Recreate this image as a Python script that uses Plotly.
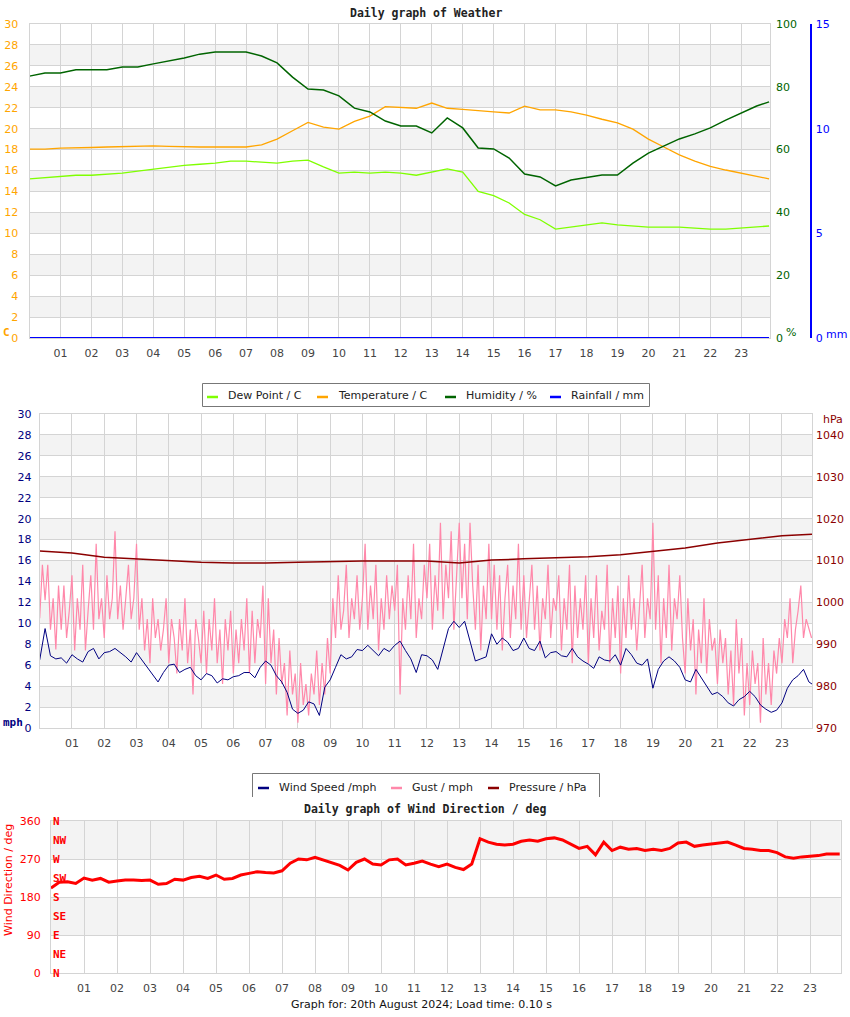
import plotly.graph_objects as go

W, H = 850, 1017


def px(x):
    return x / W


def py(y):
    return 1 - y / H


# ---------------- data ----------------
hour_ticks = list(range(1, 24))
hour_text = ["%02d" % h for h in hour_ticks]

# weather panel, half-hourly readings
half_hours = [i * 0.5 for i in range(48)] + [23.9]
temperature = [18.05, 18.05, 18.15, 18.15, 18.2, 18.25, 18.3, 18.35, 18.35, 18.3,
               18.25, 18.25, 18.25, 18.25, 18.25, 18.45, 19.0, 19.8, 20.6, 20.15,
               19.95, 20.7, 21.2, 22.1, 22.05, 21.95, 22.45, 21.95, 21.85, 21.7,
               21.6, 21.5, 22.15, 21.8, 21.8, 21.6, 21.3, 20.9, 20.55, 19.95,
               19.0, 18.25, 17.5, 16.9, 16.4, 16.05, 15.75, 15.5, 15.2]
dew_point = [15.2, 15.3, 15.45, 15.55, 15.55, 15.65, 15.75, 15.95, 16.15, 16.35,
             16.5, 16.6, 16.7, 16.9, 16.9, 16.8, 16.7, 16.9, 17.0, 16.35,
             15.75, 15.85, 15.75, 15.85, 15.75, 15.55, 15.85, 16.15, 15.85, 14.0,
             13.6, 12.9, 11.8, 11.3, 10.4, 10.6, 10.8, 11.0, 10.8, 10.7,
             10.6, 10.6, 10.6, 10.5, 10.4, 10.4, 10.5, 10.6, 10.7]
humidity = [83.4, 84.4, 84.4, 85.4, 85.4, 85.4, 86.3, 86.3, 87.3, 88.2,
            89.2, 90.4, 91.1, 91.1, 91.1, 89.8, 87.6, 83.1, 79.3, 79.0,
            77.1, 73.2, 72.0, 69.1, 67.5, 67.5, 65.3, 70.1, 66.9, 60.5,
            60.2, 57.3, 52.2, 51.3, 48.4, 50.3, 51.0, 51.9, 51.9, 55.7,
            58.9, 61.1, 63.4, 65.0, 66.9, 69.4, 71.7, 73.9, 75.2]
rain_hours = [0, 23.9]
rainfall = [0, 0]

# wind panel
speed_hours = [i / 6 for i in range(144)] + [23.93]
wind_speed = [
    6.5, 9.5, 6.9, 6.6, 6.7, 6.2,
    7.0, 6.6, 6.3, 7.3, 7.6, 6.6,
    7.2, 7.3, 7.6, 7.2, 6.8, 6.3,
    7.2, 6.5, 5.8, 5.0, 4.4, 5.3,
    6.0, 6.1, 5.3, 5.6, 5.8, 5.0,
    4.6, 5.2, 5.0, 4.3, 4.7, 4.6,
    4.9, 5.0, 5.3, 5.3, 4.8, 5.8,
    6.4, 6.0, 5.0, 4.4, 3.4, 1.8,
    1.4, 1.7, 2.5, 2.3, 1.2, 3.9,
    4.6, 5.8, 7.0, 6.6, 6.8, 7.5,
    7.4, 7.9, 7.4, 6.9, 7.6, 7.3,
    7.9, 8.3, 7.4, 6.6, 5.3, 7.0,
    6.9, 6.5, 5.6, 7.5, 9.5, 10.2,
    9.6, 10.2, 8.4, 6.4, 6.6, 6.8,
    9.0, 8.0, 8.6, 8.2, 7.4, 7.6,
    8.6, 7.6, 7.4, 8.3, 6.7, 7.2,
    7.3, 6.9, 6.8, 7.6, 6.8, 6.4,
    6.1, 5.7, 6.8, 6.5, 6.4, 7.0,
    6.0, 7.6, 7.0, 6.2, 6.0, 6.6,
    3.8, 5.6, 6.4, 6.8, 6.4, 5.8,
    4.6, 4.4, 5.6, 4.8, 4.0, 3.2,
    3.4, 3.0, 2.4, 2.1, 2.7, 3.0,
    3.5, 3.0, 2.2, 1.8, 1.5, 1.7,
    2.4, 3.8, 4.6, 5.0, 5.6, 4.4,
    4.2]

gust_hours = [i / 12 for i in range(288)]
gust = [
    10.5, 15.6, 12.2, 15.6, 9.4, 12.4, 7.5, 13.6, 9.4, 13.6, 8.6, 11.2,
    14.6, 7.4, 12.4, 9.4, 15.6, 7.4, 11.2, 14.6, 9.4, 17.6, 10.4, 12.4,
    8.6, 14.6, 10.4, 12.4, 18.8, 10.4, 13.6, 9.4, 12.4, 15.6, 10.4, 12.4,
    17.6, 9.4, 12.4, 7.4, 10.4, 6.2, 12.4, 8.6, 10.4, 7.4, 9.4, 12.4,
    6.2, 10.4, 8.6, 5.2, 10.4, 7.4, 12.4, 6.2, 9.4, 3.2, 10.4, 8.6,
    6.2, 11.2, 5.2, 10.4, 7.4, 12.4, 6.2, 9.4, 4.2, 10.4, 7.4, 11.2,
    5.2, 9.4, 6.2, 10.4, 7.4, 12.4, 5.2, 11.2, 6.2, 10.4, 8.6, 13.6,
    4.2, 12.4, 6.2, 9.4, 3.2, 8.6, 4.2, 6.2, 1.2, 7.4, 3.2, 5.2,
    0.5, 6.2, 2.2, 4.2, 1.2, 5.2, 3.2, 7.4, 2.2, 6.2, 3.2, 8.6,
    5.2, 12.4, 8.6, 14.6, 9.4, 11.2, 15.6, 8.6, 12.4, 10.4, 14.6, 9.4,
    12.4, 17.6, 9.4, 13.6, 10.4, 15.6, 7.4, 12.4, 9.4, 14.6, 10.4, 13.6,
    11.2, 15.6, 3.2, 12.4, 9.4, 14.6, 10.4, 17.6, 8.6, 12.4, 10.4, 15.6,
    12.4, 17.6, 9.4, 14.6, 11.2, 19.6, 10.4, 15.6, 12.4, 18.8, 9.4, 14.6,
    19.6, 12.4, 17.6, 10.4, 19.6, 13.6, 9.4, 15.6, 7.4, 13.6, 10.4, 17.6,
    10.4, 15.6, 9.4, 14.6, 7.4, 12.4, 15.6, 8.6, 13.6, 10.4, 17.6, 9.4,
    14.6, 8.6, 12.4, 15.6, 9.4, 13.6, 7.4, 12.4, 10.4, 15.6, 8.6, 12.4,
    11.2, 14.6, 7.4, 12.4, 9.4, 15.6, 6.2, 13.6, 8.6, 12.4, 9.4, 14.6,
    6.2, 12.4, 8.6, 14.6, 7.4, 11.2, 9.4, 15.6, 6.2, 12.4, 8.6, 13.6,
    5.2, 12.4, 8.6, 14.6, 9.4, 12.4, 7.4, 11.2, 15.6, 8.6, 12.4, 10.4,
    19.6, 9.4, 14.6, 6.2, 12.4, 8.6, 15.6, 7.4, 12.4, 10.4, 14.6, 8.6,
    5.2, 12.4, 7.4, 10.4, 3.2, 9.4, 6.2, 12.4, 5.2, 10.4, 7.4, 8.6,
    4.2, 9.4, 6.2, 8.6, 3.2, 7.4, 2.2, 10.4, 5.2, 8.6, 1.2, 6.2,
    2.2, 7.4, 4.2, 6.2, 0.5, 8.6, 3.2, 6.2, 2.2, 7.4, 5.2, 8.6,
    6.2, 10.4, 8.6, 12.4, 6.2, 9.4, 11.2, 13.6, 8.6, 10.4, 9.4, 8.6]

pressure_hours = list(range(24)) + [23.93]
pressure = [1012.3, 1011.8, 1010.8, 1010.4, 1009.9, 1009.6, 1009.4, 1009.4, 1009.6, 1009.8,
            1009.9, 1009.9, 1009.9, 1009.4, 1010.1, 1010.4, 1010.7, 1010.9, 1011.4, 1012.2,
            1013.0, 1014.2, 1015.1, 1015.9, 1016.3]

# wind direction panel, quarter-hourly
dir_hours = [i * 0.25 for i in range(96)] + [23.9]
wind_dir = [
    201, 215, 216, 212,
    225, 220, 224, 215,
    218, 220, 220, 219,
    220, 210, 212, 222,
    220, 226, 229, 224,
    232, 222, 224, 232,
    236, 240, 238, 237,
    242, 260, 270, 268,
    274, 268, 262, 255,
    244, 262, 270, 258,
    256, 268, 270, 256,
    260, 265, 258, 252,
    258, 250, 245, 258,
    318, 310, 305, 303,
    305, 312, 315, 312,
    318, 320, 315, 305,
    295, 300, 280, 310,
    290, 298, 293, 295,
    290, 293, 290, 295,
    308, 310, 300, 303,
    305, 308, 310, 303,
    295, 293, 290, 290,
    285, 275, 272, 275,
    277, 278, 282, 283,
    282]

compass = ["N", "NE", "E", "SE", "S", "SW", "W", "NW", "N"]
compass_deg = [0, 45, 90, 135, 180, 225, 270, 315, 360]

# ---------------- figure ----------------
GRID = "#d4d4d4"
BAND = "#f3f3f3"
ORANGE = "#ffa500"
DEW = "#7fff00"
HUM = "#006400"
RAIN = "#0000ff"
NAVY = "#000080"
GUST = "#ff88aa"
PRES = "#8b0000"
RED = "#ff0000"

fig = go.Figure()

fig.add_trace(go.Scatter(x=half_hours, y=dew_point, mode="lines", name="Dew Point / C",
                         line=dict(color=DEW, width=1.3), xaxis="x", yaxis="y"))
fig.add_trace(go.Scatter(x=half_hours, y=temperature, mode="lines", name="Temperature / C",
                         line=dict(color=ORANGE, width=1.3), xaxis="x", yaxis="y"))
fig.add_trace(go.Scatter(x=half_hours, y=humidity, mode="lines", name="Humidity / %",
                         line=dict(color=HUM, width=1.5), xaxis="x", yaxis="y2"))
fig.add_trace(go.Scatter(x=rain_hours, y=rainfall, mode="lines", name="Rainfall / mm",
                         line=dict(color=RAIN, width=2), xaxis="x", yaxis="y3", cliponaxis=False))

fig.add_trace(go.Scatter(x=gust_hours, y=gust, mode="lines", name="Gust / mph",
                         line=dict(color=GUST, width=1.2), xaxis="x2", yaxis="y4"))
fig.add_trace(go.Scatter(x=speed_hours, y=wind_speed, mode="lines", name="Wind Speed /mph",
                         line=dict(color=NAVY, width=1), xaxis="x2", yaxis="y4"))
fig.add_trace(go.Scatter(x=pressure_hours, y=pressure, mode="lines", name="Pressure / hPa",
                         line=dict(color=PRES, width=1.5), xaxis="x2", yaxis="y5"))

fig.add_trace(go.Scatter(x=dir_hours, y=wind_dir, mode="lines", name="Wind Direction",
                         line=dict(color=RED, width=3), xaxis="x3", yaxis="y6"))


def xaxis_style(left, right, anchor):
    return dict(domain=[px(left), px(right)], anchor=anchor, range=[0, 23.93],
                tickvals=hour_ticks, ticktext=hour_text, showgrid=True, gridcolor=GRID,
                zeroline=False, showline=True, linecolor=GRID, mirror=True, ticks="",
                ticklabelstandoff=5, tickfont=dict(size=11, color="#444"))


fig.update_layout(
    width=W, height=H, autosize=False, showlegend=False, hovermode=False,
    margin=dict(l=0, r=0, t=0, b=0, autoexpand=False),
    paper_bgcolor="white", plot_bgcolor="rgba(0,0,0,0)",
    font=dict(family="DejaVu Sans", size=11, color="#222"),
    xaxis=xaxis_style(29.5, 770, "y"),
    yaxis=dict(domain=[py(338), py(24)], anchor="x", range=[0, 30], dtick=2, tick0=0,
               showgrid=True, gridcolor=GRID, zeroline=False, showline=True, linecolor=GRID,
               mirror=True, ticks="", ticklabelstandoff=8, tickfont=dict(size=11, color=ORANGE)),
    yaxis2=dict(overlaying="y", anchor="x", side="right", range=[0, 100],
                tickvals=[0, 20, 40, 60, 80, 100], showgrid=False, zeroline=False, ticks="",
                ticklabelstandoff=5, tickfont=dict(size=11, color=HUM)),
    yaxis3=dict(overlaying="y", anchor="free", position=px(810), side="right", range=[0, 15],
                tickvals=[0, 5, 10, 15], showgrid=False, zeroline=False, showline=True,
                linecolor=RAIN, linewidth=1.5, ticks="", ticklabelstandoff=2,
                tickfont=dict(size=11, color=RAIN)),
    xaxis2=xaxis_style(39.7, 812, "y4"),
    yaxis4=dict(domain=[py(728), py(414)], anchor="x2", range=[0, 30], dtick=2, tick0=0,
                showgrid=True, gridcolor=GRID, zeroline=False, showline=True, linecolor=GRID,
                mirror=True, ticks="", ticklabelstandoff=5, tickfont=dict(size=11, color=NAVY)),
    yaxis5=dict(overlaying="y4", anchor="x2", side="right", range=[970, 1045],
                tickvals=[970, 980, 990, 1000, 1010, 1020, 1030, 1040], showgrid=False,
                zeroline=False, ticks="", ticklabelstandoff=3, tickfont=dict(size=11, color=PRES)),
    xaxis3=xaxis_style(51, 840.7, "y6"),
    yaxis6=dict(domain=[py(973), py(821)], anchor="x3", range=[0, 360],
                tickvals=[0, 90, 180, 270, 360], showgrid=True, gridcolor=GRID, zeroline=False,
                showline=True, linecolor=GRID, mirror=True, ticks="", ticklabelstandoff=7,
                tickfont=dict(size=11, color=RED)),
)

shapes = []
# alternating background bands
for lo in [2, 6, 10, 14, 18, 22, 26]:
    for xr, yr in [("x domain", "y"), ("x2 domain", "y4")]:
        shapes.append(dict(type="rect", xref=xr, yref=yr, x0=0, x1=1, y0=lo, y1=lo + 2,
                           fillcolor=BAND, line=dict(width=0), layer="below"))
for lo in [90, 270]:
    shapes.append(dict(type="rect", xref="x3 domain", yref="y6", x0=0, x1=1, y0=lo, y1=lo + 90,
                       fillcolor=BAND, line=dict(width=0), layer="below"))

annotations = []


def text(x, y, s, size=11, color="#222", family="DejaVu Sans", xanchor="left", **kw):
    annotations.append(dict(x=px(x), y=py(y), xref="paper", yref="paper", text=s,
                            showarrow=False, xanchor=xanchor, yanchor="middle",
                            font=dict(size=size, color=color, family=family), **kw))


# legend 1
shapes.append(dict(type="rect", xref="paper", yref="paper", x0=px(202.5), x1=px(649.5),
                   y0=py(406.5), y1=py(383.5), line=dict(color="#777", width=1),
                   fillcolor="white"))
for x0, col, label in [(207, DEW, "Dew Point / C"), (317, ORANGE, "Temperature / C"),
                       (445, HUM, "Humidity / %"), (550, RAIN, "Rainfall / mm")]:
    shapes.append(dict(type="line", xref="paper", yref="paper", x0=px(x0), x1=px(x0 + 11),
                       y0=py(397), y1=py(397), line=dict(color=col, width=2.5)))
    text(x0 + 19, 396, label, size=11)

# legend 2 (bottom edge hidden below the next panel)
for a, b in [((252.5, 797), (252.5, 773.5)), ((252.5, 773.5), (599.5, 773.5)),
             ((599.5, 773.5), (599.5, 797))]:
    shapes.append(dict(type="line", xref="paper", yref="paper", x0=px(a[0]), y0=py(a[1]),
                       x1=px(b[0]), y1=py(b[1]), line=dict(color="#777", width=1)))
for x0, col, label in [(258, NAVY, "Wind Speed /mph"), (391, GUST, "Gust / mph"),
                       (488, PRES, "Pressure / hPa")]:
    shapes.append(dict(type="line", xref="paper", yref="paper", x0=px(x0), x1=px(x0 + 11),
                       y0=py(788), y1=py(788), line=dict(color=col, width=2.5)))
    text(x0 + 19, 787, label, size=11)

# titles and axis units
MONO = "DejaVu Sans Mono"
text(425.5, 13, "<b>Daily graph of Weather</b>", size=11.5, family=MONO, xanchor="center")
text(425, 809, "<b>Daily graph of Wind Direction / deg</b>", size=11.5, family=MONO,
     xanchor="center")
text(1, 332, "<b>C</b>", size=11, color=ORANGE, family=MONO)
text(784, 332, "%", size=11, color=HUM)
text(824, 334, "mm", size=11, color=RAIN)
text(1, 722, "<b>mph</b>", size=11, color=NAVY, family=MONO)
text(821, 419, "hPa", size=11, color=PRES)
text(8, 880, "Wind Direction / deg", size=11, color=RED, xanchor="center", textangle=-90)
text(421.5, 1004, "Graph for: 20th August 2024; Load time: 0.10 s", size=11, color="#111",
     xanchor="center")

for lab, deg in zip(compass, compass_deg):
    annotations.append(dict(x=0, y=deg, xref="x3 domain", yref="y6", text="<b>%s</b>" % lab,
                            showarrow=False, xanchor="left", yanchor="middle", xshift=0,
                            font=dict(size=11, color=RED, family=MONO)))

fig.update_layout(shapes=shapes, annotations=annotations)

# drop the default page margin so the figure sits at the window's top-left corner
fig.write_html("out.html", config={"displayModeBar": False, "staticPlot": True},
               post_script="document.body.style.margin='0';document.body.style.overflow='hidden';")
